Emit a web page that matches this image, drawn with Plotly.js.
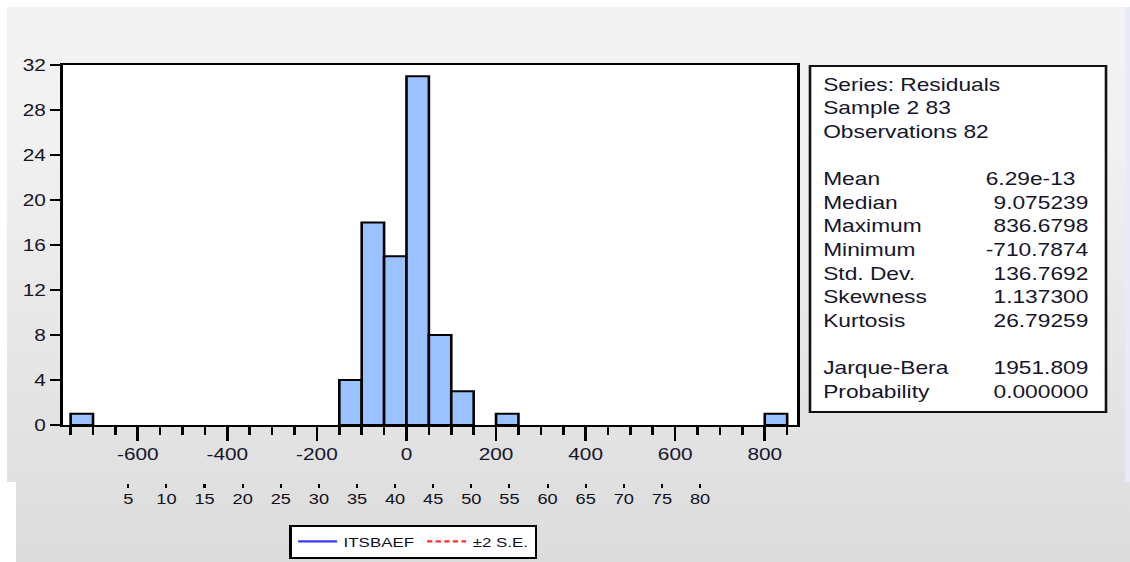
<!DOCTYPE html>
<html>
<head>
<meta charset="utf-8">
<script src="https://cdn.plot.ly/plotly-3.0.1.min.js"></script>
<style>
  html, body { margin: 0; padding: 0; width: 1130px; height: 562px; overflow: hidden; background: #fff; }
  #panelTop { position: absolute; left: 7px; top: 7px; width: 1118px; height: 475px;
    background: linear-gradient(#f3f3f3 0%, #f2f2f2 22%, #e0e0e0 100%); }
  #panelEdge { position: absolute; left: 1125px; top: 7px; width: 5px; height: 475px; background: #e5ebf8; }
  #panelBottom { position: absolute; left: 16px; top: 482px; width: 1114px; height: 80px;
    background: linear-gradient(#e0e0e0, #dcdcdc); }
  /* EViews-style graphs are drawn wide: the chart is laid out narrow and stretched horizontally */
  #chart { position: absolute; left: 0; top: 0; width: 869px; height: 562px;
    transform: scaleX(1.30035); transform-origin: 0 0; }
</style>
</head>
<body>
<div id="panelTop"></div>
<div id="panelEdge"></div>
<div id="panelBottom"></div>
<div id="chart"></div>
<script>
// Residual histogram (bin width 50)
const binLeft = [-750, -150, -100, -50, 0, 50, 100, 200, 800];
const binCount = [1, 4, 18, 15, 31, 8, 3, 1, 1];
const binWidth = 50;
const residTicks = [-600, -400, -200, 0, 200, 400, 600, 800];

// Descriptive statistics panel
const statHeader = ['Series: Residuals', 'Sample 2 83', 'Observations 82'];
const statNames = ['Mean', 'Median', 'Maximum', 'Minimum', 'Std. Dev.', 'Skewness', 'Kurtosis'];
const statValues = ['6.29e-13', '9.075239', '836.6798', '-710.7874', '136.7692', '1.137300', '26.79259'];
const testNames = ['Jarque-Bera', 'Probability'];
const testValues = ['1951.809', '0.000000'];

// Observation axis and series legend of the residual line graph
const obsTicks = [5, 10, 15, 20, 25, 30, 35, 40, 45, 50, 55, 60, 65, 70, 75, 80];
const seriesNames = ['ITSBAEF', '±2 S.E.'];

const W = 1130, H = 562;
const px = x => x / W;
const py = y => 1 - y / H;

const textColor = '#15152b';

const traces = [
  {
    type: 'bar',
    x: binLeft.map(v => v + binWidth / 2),
    y: binCount,
    width: binWidth,
    marker: { color: '#99c2ff', line: { color: '#000', width: 2 } },
    showlegend: false,
    xaxis: 'x', yaxis: 'y'
  },
  {
    type: 'scatter', mode: 'lines', x: [null], y: [null],
    name: seriesNames[0], showlegend: true,
    line: { color: '#3a3aff', width: 2.2 },
    xaxis: 'x2', yaxis: 'y2'
  },
  {
    type: 'scatter', mode: 'lines', x: [null], y: [null],
    name: seriesNames[1], showlegend: true,
    line: { color: '#ff2a2a', width: 2.2, dash: '4px,2.6px' },
    xaxis: 'x2', yaxis: 'y2'
  }
];

// statistics text: labels left-aligned, numbers right-aligned
const statFont = { family: 'Liberation Sans, Arial, sans-serif', size: 17.5, color: textColor };
const lineY = i => 84.5 + 23.65 * i;
const annotations = [];
statHeader.forEach((t, i) => {
  annotations.push({ xref: 'paper', yref: 'paper', x: px(821), y: py(lineY(i)),
    xanchor: 'left', yanchor: 'middle', text: t, showarrow: false, font: statFont });
});
const addRows = (names, values, start) => {
  names.forEach((t, k) => {
    const yy = py(lineY(start + k));
    // exponent-format numbers end one column short of the fixed-point ones
    const right = values[k].includes('e') ? 1078 : 1091;
    annotations.push({ xref: 'paper', yref: 'paper', x: px(821), y: yy,
      xanchor: 'left', yanchor: 'middle', text: t, showarrow: false, font: statFont });
    annotations.push({ xref: 'paper', yref: 'paper', x: px(right), y: yy,
      xanchor: 'right', yanchor: 'middle', text: values[k], showarrow: false, font: statFont });
  });
};
addRows(statNames, statValues, 4);
addRows(testNames, testValues, 12);

const layout = {
  width: 869, height: 562,
  margin: { l: 0, r: 0, t: 0, b: 0, pad: 0 },
  paper_bgcolor: 'rgba(0,0,0,0)',
  plot_bgcolor: 'rgba(0,0,0,0)',
  font: { family: 'Liberation Sans, Arial, sans-serif', color: textColor },
  bargap: 0,
  showlegend: true,
  xaxis: {
    domain: [px(63), px(797)], range: [-767, 872], anchor: 'y',
    showline: true, mirror: true, linecolor: '#000', linewidth: 2,
    ticks: 'outside', tickmode: 'array', tickvals: residTicks, ticktext: residTicks.map(String),
    ticklen: 14, tickwidth: 2, tickcolor: '#000',
    minor: { ticks: 'outside', tickmode: 'linear', tick0: 0, dtick: 50, ticklen: 8, tickwidth: 2, tickcolor: '#000', showgrid: false },
    showgrid: false, zeroline: false,
    tickfont: { size: 16, color: textColor }
  },
  yaxis: {
    domain: [py(425), py(65)], range: [0, 32], anchor: 'x',
    showline: true, mirror: true, linecolor: '#000', linewidth: 2,
    ticks: 'outside', tick0: 0, dtick: 4, ticklen: 8, tickwidth: 2, tickcolor: '#000',
    showgrid: false, zeroline: false,
    tickfont: { size: 16, color: textColor }
  },
  xaxis2: {
    domain: [px(90.2), px(90.2 + 7.6227 * 90)], range: [0, 90], anchor: 'y2',
    showline: false, ticks: 'outside', tickmode: 'array', tickvals: obsTicks, ticklen: 4, tickwidth: 1.6, tickcolor: '#000',
    showgrid: false, zeroline: false,
    tickfont: { family: 'Liberation Sans Narrow, Arial Narrow, sans-serif', size: 14, color: '#101020' }
  },
  yaxis2: { domain: [py(482.5), py(470)], range: [0, 1], anchor: 'x2', visible: false },
  legend: {
    orientation: 'h', x: px(289), xanchor: 'left', y: py(524.5), yanchor: 'top',
    bgcolor: '#ffffff', bordercolor: '#000', borderwidth: 2,
    font: { size: 13, color: '#101020' }
  },
  shapes: [
    {
      // white plotting area of the histogram
      type: 'rect', xref: 'x domain', yref: 'y domain', x0: 0, x1: 1, y0: 0, y1: 1,
      line: { width: 0 }, fillcolor: '#ffffff', layer: 'below'
    },
    {
      type: 'rect', xref: 'paper', yref: 'paper',
      x0: px(810), x1: px(1106), y0: py(412), y1: py(66),
      line: { color: '#111', width: 2 }, fillcolor: '#ffffff'
    }
  ],
  annotations: annotations
};

Plotly.newPlot('chart', traces, layout, { staticPlot: true, displayModeBar: false });
</script>
</body>
</html>
